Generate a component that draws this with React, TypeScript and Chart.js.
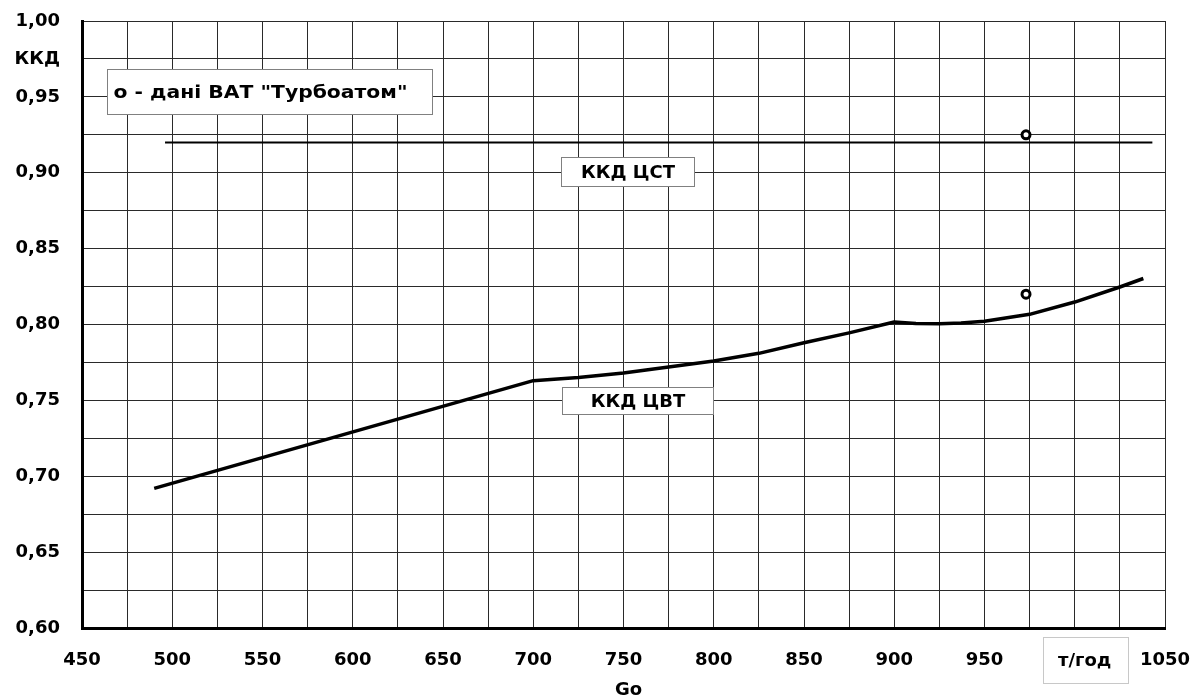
import React, { useEffect, useRef } from "react";
import { Chart, registerables } from "chart.js";

Chart.register(...registerables);

// ККД ЦСТ (horizontal line)
const cstX = [496, 1043];
const cstY = [0.92, 0.92];

// ККД ЦВТ curve
const cvtX = [490, 700, 725, 750, 775, 800, 825, 850, 875, 900, 912, 925, 937, 950, 975, 1000, 1025, 1038];
const cvtY = [0.692, 0.763, 0.765, 0.768, 0.772, 0.776, 0.781, 0.788, 0.7945, 0.8016, 0.8006, 0.8005, 0.801, 0.8022, 0.8067, 0.8148, 0.8247, 0.8303];

// дані ВАТ "Турбоатом"
const vatX = [973, 973];
const vatY = [0.925, 0.82];

const xMin = 450;
const xMax = 1050;
const yMin = 0.6;
const yMax = 1.0;
const yLabelValue = 0.975; // where "ККД" sits
const xUnitValue = 1000; // where "т/год" sits

const yAxisTitle = "ККД";
const xAxisTitle = "Go";
const xUnit = "т/год";
const legendText = 'o - дані ВАТ "Турбоатом"';
const cstLabel = "ККД ЦСТ";
const cvtLabel = "ККД ЦВТ";

const FONT = "'DejaVu Sans', sans-serif";
const FS = 18;

const boxesPlugin = {
  id: "boxes",
  afterDraw(chart: any) {
    const { ctx, scales } = chart;
    const xs = scales.x;
    const ys = scales.y;
    ctx.save();
    const box = (x1: number, y1: number, x2: number, y2: number, text: string, align: string, stroke: string, textWidth?: number) => {
      const l = Math.round(xs.getPixelForValue(x1)) + 0.5;
      const r = Math.round(xs.getPixelForValue(x2)) + 0.5;
      const t = Math.round(ys.getPixelForValue(y1)) + 0.5;
      const b = Math.round(ys.getPixelForValue(y2)) + 0.5;
      ctx.fillStyle = "#fff";
      ctx.fillRect(l, t, r - l, b - t);
      ctx.strokeStyle = stroke;
      ctx.lineWidth = 1;
      ctx.strokeRect(l, t, r - l, b - t);
      ctx.fillStyle = "#000";
      ctx.font = `bold ${FS}px ${FONT}`;
      ctx.textBaseline = "middle";
      if (align === "left") {
        ctx.textAlign = "left";
        const w = ctx.measureText(text).width;
        const k = textWidth ? textWidth / w : 1;
        ctx.save();
        ctx.translate(l + 6, (t + b) / 2 + 1);
        ctx.scale(k, 1);
        ctx.fillText(text, 0, 0);
        ctx.restore();
      } else {
        ctx.textAlign = "center";
        ctx.fillText(text, (l + r) / 2, (t + b) / 2 + 1);
      }
    };
    box(464, 0.9682, 644, 0.9386, legendText, "left", "#808080", 294);
    box(715.6, 0.9103, 789.3, 0.8912, cstLabel, "center", "#808080");
    box(716, 0.7586, 799.7, 0.7408, cvtLabel, "center", "#808080");

    // unit box under the x axis
    const ux = xs.getPixelForValue(xUnitValue) + 10;
    const bx = Math.round(ux - 42) + 0.5;
    ctx.fillStyle = "#fff";
    ctx.fillRect(bx, 637.5, 85, 46);
    ctx.strokeStyle = "#c8c8c8";
    ctx.strokeRect(bx, 637.5, 85, 46);
    ctx.fillStyle = "#000";
    ctx.font = `bold ${FS}px ${FONT}`;
    ctx.textAlign = "center";
    ctx.textBaseline = "middle";
    ctx.fillText(xUnit, ux, 661);

    // axis title
    ctx.fillText(xAxisTitle, (chart.chartArea.left + chart.chartArea.right) / 2 + 5, 690);
    ctx.restore();
  },
};

export default function App() {
  const ref = useRef<HTMLCanvasElement>(null);
  useEffect(() => {
    if (!ref.current) return;
    const chart = new Chart(ref.current, {
      type: "scatter",
      data: {
        datasets: [
          {
            label: cstLabel,
            data: cstX.map((x, i) => ({ x, y: cstY[i] })),
            showLine: true,
            borderColor: "#000",
            borderWidth: 2,
            pointRadius: 0,
            tension: 0,
          },
          {
            label: cvtLabel,
            data: cvtX.map((x, i) => ({ x, y: cvtY[i] })),
            showLine: true,
            borderColor: "#000",
            borderWidth: 3.5,
            pointRadius: 0,
            tension: 0,
            borderJoinStyle: "round",
          },
          {
            label: legendText,
            data: vatX.map((x, i) => ({ x, y: vatY[i] })),
            showLine: false,
            borderColor: "#000",
            backgroundColor: "#fff",
            borderWidth: 3,
            pointRadius: 4,
            pointStyle: "circle",
          },
        ],
      },
      options: {
        animation: false,
        responsive: false,
        maintainAspectRatio: false,
        layout: { padding: { left: 0, top: 21, right: 31, bottom: 0 } },
        plugins: {
          legend: { display: false },
          tooltip: { enabled: false },
          title: { display: false },
        },
        scales: {
          x: {
            type: "linear",
            min: xMin,
            max: xMax,
            afterFit: (s: any) => {
              s.height = 69;
              s.paddingLeft = 0;
              s.paddingRight = 0;
              s.paddingTop = 0;
              s.paddingBottom = 0;
            },
            afterBuildTicks: (s: any) => {
              const t = [];
              for (let v = xMin; v <= xMax + 0.001; v += 25) t.push({ value: v });
              s.ticks = t;
            },
            ticks: {
              autoSkip: false,
              maxRotation: 0,
              padding: 22,
              color: "#000",
              font: { family: FONT, size: FS, weight: "bold" },
              callback: (v: any) => {
                const n = Number(v);
                if (n % 50 !== 0) return "";
                if (n === xUnitValue) return "";
                return String(n);
              },
            },
            grid: { color: "#2a2a2a", lineWidth: 1, drawTicks: false },
            border: { display: true, color: "#000", width: 3 },
          },
          y: {
            type: "linear",
            min: yMin,
            max: yMax,
            afterFit: (s: any) => {
              s.width = 82;
              s.paddingLeft = 0;
              s.paddingRight = 0;
              s.paddingTop = 0;
              s.paddingBottom = 0;
            },
            afterBuildTicks: (s: any) => {
              const t = [];
              for (let i = 0; i <= 16; i++) t.push({ value: Math.round((yMin + i * 0.025) * 1000) / 1000 });
              s.ticks = t;
            },
            ticks: {
              autoSkip: false,
              padding: 22,
              color: "#000",
              font: { family: FONT, size: FS, weight: "bold" },
              callback: (v: any) => {
                const n = Math.round(Number(v) * 1000);
                if (n === Math.round(yLabelValue * 1000)) return yAxisTitle;
                if (n % 50 !== 0) return "";
                return (n / 1000).toFixed(2).replace(".", ",");
              },
            },
            grid: { color: "#2a2a2a", lineWidth: 1, drawTicks: false },
            border: { display: true, color: "#000", width: 3 },
          },
        },
      },
      plugins: [boxesPlugin],
    } as any);
    return () => chart.destroy();
  }, []);
  return (
    <div style={{ position: "fixed", left: 0, top: 0, width: 1196, height: 697, background: "#fff" }}>
      <canvas ref={ref} width={1196} height={697} />
    </div>
  );
}
